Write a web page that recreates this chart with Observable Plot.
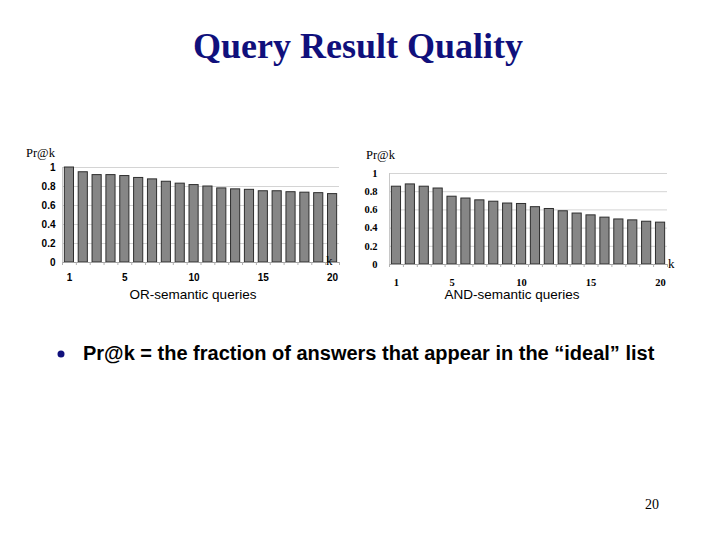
<!DOCTYPE html>
<html><head><meta charset="utf-8">
<script src="https://cdn.jsdelivr.net/npm/d3@7"></script>
<script src="https://cdn.jsdelivr.net/npm/@observablehq/plot@0.6"></script>
<style>
body{margin:0;background:#fff;}
#page{position:relative;width:720px;height:540px;overflow:hidden;background:#fff;}
#page svg{position:absolute;}
</style></head><body><div id="page"></div>
<script>
const k = [1,2,3,4,5,6,7,8,9,10,11,12,13,14,15,16,17,18,19,20];
const orPrecision = [1.00,0.95,0.92,0.92,0.91,0.89,0.875,0.85,0.83,0.815,0.80,0.78,0.77,0.765,0.75,0.75,0.74,0.735,0.73,0.72];
const andPrecision = [0.855,0.88,0.855,0.835,0.745,0.725,0.705,0.69,0.67,0.665,0.63,0.61,0.585,0.56,0.54,0.515,0.495,0.485,0.47,0.46];
const yTicks = [0,0.2,0.4,0.6,0.8,1];
const yTickLabels = ["0","0.2","0.4","0.6","0.8","1"];
const xTickLabels = [1,5,10,15,20];
const bandEdges = [0.5,1.5,2.5,3.5,4.5,5.5,6.5,7.5,8.5,9.5,10.5,11.5,12.5,13.5,14.5,15.5,16.5,17.5,18.5,19.5,20.5];

const page = document.getElementById("page");

function chart(values, o) {
  const data = k.map((kk, i) => ({k: kk, v: values[i]}));
  const svg = Plot.plot({
    width: o.width, height: o.height,
    marginLeft: o.ml, marginRight: o.mr, marginTop: o.mt, marginBottom: o.mb,
    style: {background: "transparent", overflow: "visible"},
    x: {domain: [0.5, 20.5], axis: null},
    y: {domain: [0, 1], axis: null},
    marks: [
      Plot.ruleY(yTicks.slice(1), {stroke: "#d4d4d4", strokeWidth: 1}),
      Plot.ruleX([0.5], {stroke: "#c8c8c8"}),
      Plot.rectY(data, {x1: d => d.k - 0.33, x2: d => d.k + 0.33, y: "v", fill: "#868686", stroke: "#2e2e2e", strokeWidth: 1}),
      Plot.ruleY([0], {stroke: "#a0a0a0"}),
      Plot.axisX({ticks: bandEdges, tickSize: 3, tickFormat: () => "", stroke: "#b0b0b0", label: null}),
      Plot.axisY({ticks: yTicks, tickSize: 0, tickPadding: o.ypad, label: null,
        tickFormat: d => yTickLabels[yTicks.indexOf(d)],
        fontFamily: o.font, fontWeight: "bold", fontSize: o.fs, fill: "#000"}),
      Plot.axisX({ticks: xTickLabels, tickSize: 0, tickPadding: o.xpad, label: null,
        fontFamily: o.font, fontWeight: "bold", fontSize: o.fs, fill: "#000"})
    ]
  });
  svg.style.left = o.left + "px";
  svg.style.top = o.top + "px";
  page.appendChild(svg);
}

chart(orPrecision, {left: 0, top: 140, width: 345, height: 160, ml: 62, mr: 6, mt: 27, mb: 38,
  ypad: 7, xpad: 11, font: "Arial, 'Liberation Sans', sans-serif", fs: 10});
chart(andPrecision, {left: 345, top: 140, width: 375, height: 160, ml: 44, mr: 53, mt: 33, mb: 36,
  ypad: 12, xpad: 14, font: "'Times New Roman', 'Liberation Serif', serif", fs: 10.5});

// overlay texts
const ov = d3.select(page).append("svg").attr("width", 720).attr("height", 540)
  .style("left", "0px").style("top", "0px").style("pointer-events", "none");
const serif = "'Times New Roman', 'Liberation Serif', serif";
const sans = "Arial, 'Liberation Sans', sans-serif";
ov.append("text").attr("x", 358).attr("y", 58).attr("text-anchor", "middle")
  .attr("font-family", serif).attr("font-weight", "bold").attr("font-size", 36).attr("fill", "#10107c")
  .text("Query Result Quality");
ov.append("text").attr("x", 26).attr("y", 157).attr("font-family", serif).attr("font-size", 12.5).text("Pr@k");
ov.append("text").attr("x", 366).attr("y", 159).attr("font-family", serif).attr("font-size", 12.5).text("Pr@k");
ov.append("text").attr("x", 326).attr("y", 265).attr("font-family", serif).attr("font-size", 13).text("k");
ov.append("text").attr("x", 668).attr("y", 268).attr("font-family", serif).attr("font-size", 13).text("k");
ov.append("text").attr("x", 193).attr("y", 299).attr("text-anchor", "middle")
  .attr("font-family", sans).attr("font-size", 13.5).text("OR-semantic queries");
ov.append("text").attr("x", 512).attr("y", 299).attr("text-anchor", "middle")
  .attr("font-family", sans).attr("font-size", 13.5).text("AND-semantic queries");
ov.append("circle").attr("cx", 61).attr("cy", 354).attr("r", 3.5).attr("fill", "#10107c");
ov.append("text").attr("x", 83).attr("y", 360).attr("font-family", sans).attr("font-weight", "bold")
  .attr("font-size", 20).attr("fill", "#000").text("Pr@k = the fraction of answers that appear in the \u201Cideal\u201D list");
ov.append("text").attr("x", 645).attr("y", 509).attr("font-family", serif).attr("font-size", 14).text("20");
</script></body></html>
